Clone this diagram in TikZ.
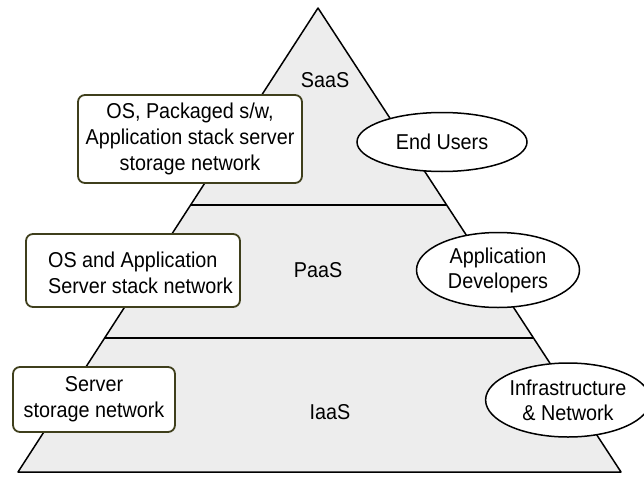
\documentclass[tikz,border=0pt]{standalone}
\usepackage{fontspec}
\setmainfont[FakeStretch=0.92]{Liberation Sans}
\usetikzlibrary{calc,shapes.geometric}
\definecolor{layerfill}{HTML}{EDEDED}
\definecolor{boxline}{HTML}{3F3F1C}
\begin{document}
\begin{tikzpicture}[x=1pt, y=-1pt,
  layer/.style={font=\fontsize{21.5}{26}\selectfont},
  stackbox/.style={draw=boxline, line width=1.8pt, rounded corners=7pt, fill=white, inner sep=0pt},
  stacktext/.style={font=\fontsize{21.5}{26}\selectfont, inner sep=0pt},
  userbubble/.style={ellipse, draw=black, line width=1.5pt, fill=white, inner sep=0pt, align=center, font=\fontsize{21.5}{25}\selectfont}]
\useasboundingbox (0,0) rectangle (644,476);
\coordinate (top) at (318,8);
\coordinate (bl) at (18,472);
\coordinate (br) at (621,472);
%pyramid
\draw[line width=1.5pt, fill=layerfill, line join=round](top)--(br)--(bl)--cycle;
\draw[line width=1.5pt]($(top)!0.4246!(bl)$)--($(top)!0.4246!(br)$);
\draw[line width=1.5pt]($(top)!0.7112!(bl)$)--($(top)!0.7112!(br)$);
%layer names
\node[layer] (saas) at (325,80){SaaS};
\node[layer] (paas) at (318,270){PaaS};
\node[layer] (iaas) at (330,412){IaaS};
%what each layer offers
\node[stackbox, minimum width=224, minimum height=88, stacktext, align=center] (sbox) at (190,139){OS, Packaged s/w,\\Application stack server\\storage network};
\node[stackbox, minimum width=214, minimum height=73] (pbox) at (133,270.5){};
\node[stacktext, align=left] (ptext) at (140.5,273){OS and Application\\Server stack network};
\node[stackbox, minimum width=162, minimum height=65, stacktext, align=center] (ibox) at (94,399.5){Server\\storage network};
%who uses each layer
\node[userbubble, minimum width=170, minimum height=59] (users) at (442,142){End Users};
\node[userbubble, minimum width=163, minimum height=75] (devs) at (498,270){Application\\Developers};
\node[userbubble, minimum width=146, minimum height=74] (infra) at (568,400){Infrastructure\\\& Network};
\end{tikzpicture}
\end{document}
